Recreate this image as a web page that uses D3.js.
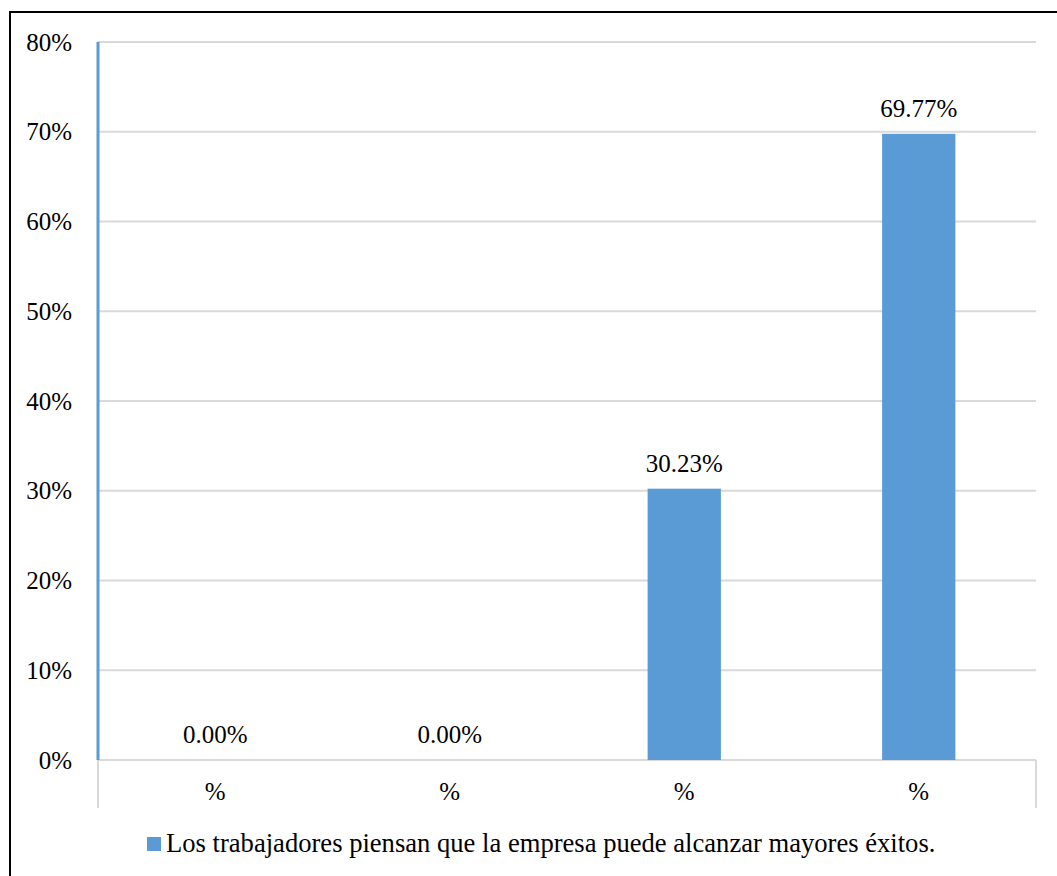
<!DOCTYPE html>
<html><head><meta charset="utf-8">
<script src="https://cdn.jsdelivr.net/npm/d3@7"></script>
<style>
html,body{margin:0;padding:0;background:#fff;}
svg{display:block;}
svg text{font-family:"Liberation Serif","Times New Roman",serif !important;fill:#000;}
</style></head>
<body>
<svg id="chart" width="1057" height="876"></svg>
<script>
const categories = ["%", "% ", "%  ", "%   "];
const categoryLabels = ["%", "%", "%", "%"];
const values = [0.0, 0.0, 30.23, 69.77];
const valueLabels = ["0.00%", "0.00%", "30.23%", "69.77%"];
const yTicks = [0, 10, 20, 30, 40, 50, 60, 70, 80];
const seriesName = "Los trabajadores piensan que la empresa puede alcanzar mayores éxitos.";

const svg = d3.select("#chart");
const pLeft = 98, pRight = 1036, pTop = 42, pBottom = 760;
const blue = "#5b9bd5", grid = "#d9d9d9";
const fs = 25;

// outer frame (top and left edges)
svg.append("line").attr("x1", 9).attr("x2", 1057).attr("y1", 12).attr("y2", 12)
  .attr("stroke", "#000").attr("stroke-width", 2);
svg.append("line").attr("x1", 10).attr("x2", 10).attr("y1", 11).attr("y2", 876)
  .attr("stroke", "#000").attr("stroke-width", 2);

const x = d3.scaleBand().domain(categories).range([pLeft, pRight]).paddingInner(0.6875).paddingOuter(0.34375);
const xc = d3.scaleBand().domain(categories).range([pLeft, pRight]);
const y = d3.scaleLinear().domain([0, 80]).range([pBottom, pTop]);

// y tick labels
const yAxis = d3.axisLeft(y).tickValues(yTicks).tickFormat(d => d + "%").tickSize(0).tickPadding(26);
const gy = svg.append("g").attr("transform", `translate(${pLeft},0)`).call(yAxis);
gy.select(".domain").remove();
gy.attr("font-family", null).attr("font-size", null);
gy.selectAll("text").attr("font-size", fs).attr("fill", "#000");

// gridlines
svg.append("g").selectAll("line").data(yTicks.filter(t => t > 0)).join("line")
  .attr("x1", pLeft).attr("x2", pRight)
  .attr("y1", d => y(d)).attr("y2", d => y(d))
  .attr("stroke", grid).attr("stroke-width", 2);

// x axis line and end ticks
svg.append("line").attr("x1", pLeft).attr("x2", pRight).attr("y1", pBottom).attr("y2", pBottom)
  .attr("stroke", grid).attr("stroke-width", 2);
[pLeft, pRight].forEach(px => {
  svg.append("line").attr("x1", px).attr("x2", px).attr("y1", pBottom).attr("y2", 808)
    .attr("stroke", grid).attr("stroke-width", 2);
});

// bars
svg.append("g").selectAll("rect").data(values).join("rect")
  .attr("x", (d, i) => x(categories[i]))
  .attr("width", x.bandwidth())
  .attr("y", d => y(d))
  .attr("height", d => pBottom - y(d))
  .attr("fill", blue);

// blue vertical axis line
svg.append("line").attr("x1", pLeft).attr("x2", pLeft).attr("y1", y(80)).attr("y2", pBottom)
  .attr("stroke", blue).attr("stroke-width", 3);

// value labels
svg.append("g").selectAll("text").data(values).join("text")
  .attr("x", (d, i) => xc(categories[i]) + xc.bandwidth() / 2)
  .attr("y", d => y(d) - 17)
  .attr("text-anchor", "middle").attr("font-size", fs)
  .text((d, i) => valueLabels[i]);

// category labels
svg.append("g").selectAll("text").data(categories).join("text")
  .attr("x", d => xc(d) + xc.bandwidth() / 2)
  .attr("y", 800)
  .attr("text-anchor", "middle").attr("font-size", fs)
  .text((d, i) => categoryLabels[i]);

// legend
svg.append("rect").attr("x", 147).attr("y", 837).attr("width", 14).attr("height", 14).attr("fill", blue);
svg.append("text").attr("x", 166).attr("y", 852).attr("font-size", 26.6).text(seriesName);
</script>
</body></html>
